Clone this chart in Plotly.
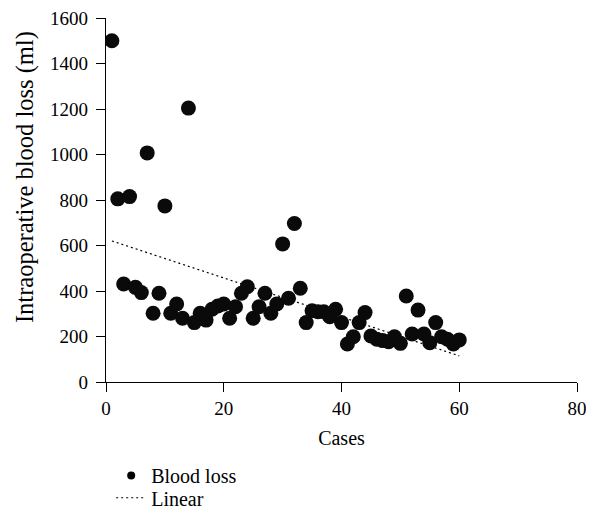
import plotly.graph_objects as go

cases = list(range(1, 61))
blood_loss = [1500, 805, 431, 815, 416, 393, 1007, 302, 390, 774,
              302, 343, 280, 1204, 261, 302, 272, 320, 334, 343,
              280, 331, 390, 419, 280, 331, 390, 302, 343, 607,
              368, 697, 412, 261, 313, 309, 309, 287, 320, 261,
              167, 199, 261, 305, 202, 188, 182, 177, 199, 170,
              378, 211, 316, 211, 173, 261, 199, 188, 167, 185]
trend_x = [1, 60]
trend_y = [620, 115]

x_ticks = [0, 20, 40, 60, 80]
y_ticks = [0, 200, 400, 600, 800, 1000, 1200, 1400, 1600]

FONT = "Liberation Serif"

fig = go.Figure()
fig.add_trace(go.Scatter(x=trend_x, y=trend_y, mode="lines", name="Linear",
                         line=dict(color="black", width=1.2, dash="2px,3px"),
                         showlegend=True, legend="legend2", hoverinfo="skip"))
fig.add_trace(go.Scatter(x=cases, y=blood_loss, mode="markers",
                         marker=dict(color="#0a0a0a", size=15),
                         showlegend=False))
# legend-only entry with small marker
fig.add_trace(go.Scatter(x=[None], y=[None], mode="markers", name="Blood loss",
                         marker=dict(color="black", size=8), legend="legend"))

axis_common = dict(showgrid=False, zeroline=False, showline=True, linecolor="black",
                   linewidth=1.3, ticks="outside", ticklen=9, tickwidth=1.3,
                   tickcolor="black", ticklabeloverflow="allow",
                   tickfont=dict(family=FONT, size=19, color="black"))

# page body has an 8px default margin, so the figure is sized/margined to compensate
fig.update_layout(
    width=586, height=502,
    margin=dict(l=98, r=17, t=10, b=128, autoexpand=False),
    plot_bgcolor="white", paper_bgcolor="white",
    font=dict(family=FONT, size=19, color="black"),
    xaxis=dict(range=[0, 80], tickvals=x_ticks,
               title=dict(text="Cases", font=dict(family=FONT, size=20), standoff=13),
               **axis_common),
    yaxis=dict(range=[0, 1600], tickvals=y_ticks, ticklabelstandoff=4, **axis_common),
    legend=dict(x=0.011, y=-0.257, xanchor="left", yanchor="middle",
                font=dict(family=FONT, size=20), itemsizing="trace",
                bgcolor="rgba(0,0,0,0)"),
    legend2=dict(x=0.011, y=-0.318, xanchor="left", yanchor="middle",
                 font=dict(family=FONT, size=20), bgcolor="rgba(0,0,0,0)"),
    annotations=[dict(text="Intraoperative blood loss (ml)", textangle=-90,
                      xref="paper", yref="paper", x=-0.172, y=0.563,
                      xanchor="center", yanchor="middle", showarrow=False,
                      font=dict(family=FONT, size=24.5, color="black"))],
)
fig.write_html("out.html")
